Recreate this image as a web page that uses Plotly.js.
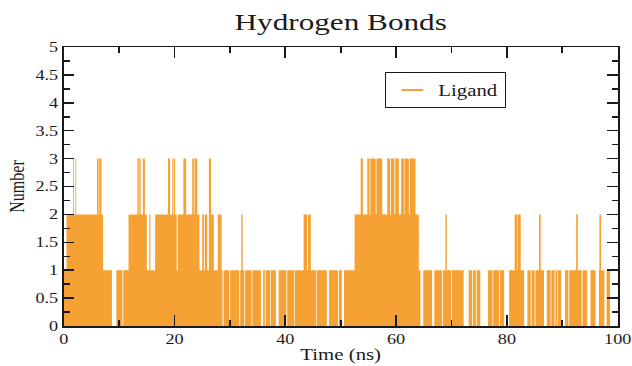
<!DOCTYPE html>
<html><head><meta charset="utf-8">
<script src="https://cdn.plot.ly/plotly-3.0.1.min.js"></script>
<style>
html,body{margin:0;padding:0;background:#fff;overflow:hidden;}
#wrap{width:632px;height:366px;overflow:hidden;}
#chart{width:486px;height:366px;transform:scaleX(1.3004);transform-origin:0 0;}
</style></head><body><div id="wrap"><div id="chart"></div></div>
<script>
// Step breakpoints: number of H-bonds holds from timeNs[i] until timeNs[i+1]
const timeNs = [0,0.5,1.7,1.85,2.1,2.25,6.0,6.3,6.4,6.8,7.1,8.7,9.5,10.6,10.75,11.7,13.3,13.55,13.65,13.9,14.3,14.65,15.0,15.45,15.65,16.5,18.8,19.2,19.6,19.8,19.9,20.1,20.4,20.6,21.6,22.1,23.2,23.5,23.6,24.1,24.5,25.0,25.35,25.5,25.9,26.2,26.6,27.1,27.8,28.5,28.65,28.85,29.9,30.05,31.7,31.85,32.05,32.3,32.6,32.75,33.9,34.05,35.6,36.0,36.3,36.45,37.3,37.42,38.3,38.8,40.2,40.35,41.6,41.72,43.3,43.95,44.1,44.6,45.6,45.72,47.5,47.9,49.5,49.65,50.2,50.6,52.5,53.6,54.0,54.8,55.2,55.35,56.3,56.45,57.5,58.4,58.9,59.05,59.7,59.85,60.5,60.9,61.4,61.5,62.3,62.45,63.5,64.1,64.4,64.9,66.5,66.9,68.3,68.45,68.9,69.15,69.9,70.05,72.2,73.1,73.7,73.85,74.4,74.55,75.2,76.6,77.4,77.52,78.6,78.75,79.5,80.4,81.4,81.9,82.0,82.5,83.1,83.7,84.3,84.45,85.0,85.15,85.8,86.1,86.7,87.2,87.9,88.02,88.6,88.75,89.1,89.22,89.8,90.5,91.1,91.25,92.5,92.8,93.5,93.65,94.5,95.1,96.0,96.6,96.7,97.0,97.6,98.0,98.6,100];
const hbonds = [1,2,3,2,3,2,3,2,3,2,1,0,1,0,1,2,3,2,3,2,3,2,1,2,1,2,3,2,3,2,3,2,1,2,3,2,3,2,3,2,1,2,1,2,1,3,2,1,2,1,0,1,0,1,0,1,2,1,0,1,0,1,0,1,0,1,0,1,0,1,0,1,0,1,2,1,2,1,0,1,0,1,0,1,0,1,2,3,2,3,2,3,2,3,2,3,2,3,2,3,2,3,2,3,2,3,2,1,0,1,0,1,0,1,2,1,0,1,0,1,0,1,0,1,0,1,0,1,0,1,0,1,2,1,2,1,0,1,0,1,0,1,2,1,0,1,0,1,0,1,0,1,0,1,0,1,2,1,0,1,0,1,0,1,2,1,0,1,0,0];
const seriesName = 'Ligand';
const xTickVals = [0,20,40,60,80,100];
const xTickText = ['0','20','40','60','80','100'];
const xMinorVals = [10,30,50,70,90];
const yTickVals = [0,0.5,1,1.5,2,2.5,3,3.5,4,4.5,5];
const yTickText = ['0','0.5','1','1.5','2','2.5','3','3.5','4','4.5','5'];
const yMinorVals = [0.25,0.75,1.25,1.75,2.25,2.75,3.25,3.75,4.25,4.75];

const orange = '#F5A133';
const ink = '#1a1a1a';
const serif = 'Liberation Serif, Times New Roman, serif';

const traces = [
  {x: timeNs, y: hbonds, type: 'scatter', mode: 'lines', line: {shape: 'hv', width: 0, color: orange},
   fill: 'tozeroy', fillcolor: orange, showlegend: false, hoverinfo: 'skip'},
  {x: [null], y: [null], type: 'scatter', mode: 'markers', name: seriesName,
   marker: {symbol: 'line-ew', size: 12, color: orange, line: {color: orange, width: 2}}}
];

const axisCommon = {
  showline: true, linecolor: ink, linewidth: 1.5, mirror: 'ticks',
  ticks: 'inside', tickcolor: ink, tickwidth: 1.5,
  showgrid: false, zeroline: false, tickmode: 'array',
  tickfont: {family: serif, size: 14, color: ink}
};

const layout = {
  width: 486, height: 366,
  margin: {l: 49, r: 11, t: 47, b: 40},
  paper_bgcolor: '#fff', plot_bgcolor: '#fff',
  title: {text: 'Hydrogen Bonds', font: {family: serif, size: 24, color: ink},
          x: 0.5, xref: 'paper', xanchor: 'center', y: 0.94, yref: 'container', yanchor: 'middle'},
  xaxis: Object.assign({}, axisCommon, {
    range: [0, 100], tickvals: xTickVals, ticktext: xTickText, ticklen: 11,
    minor: {tickmode: 'array', tickvals: xMinorVals, ticks: 'inside', ticklen: 6, tickwidth: 1.5, tickcolor: ink},
    title: {text: 'Time (ns)', font: {family: serif, size: 16, color: ink}, standoff: 2}
  }),
  yaxis: Object.assign({}, axisCommon, {
    range: [0, 5], tickvals: yTickVals, ticktext: yTickText, ticklen: 8,
    minor: {tickmode: 'array', tickvals: yMinorVals, ticks: 'inside', ticklen: 4.5, tickwidth: 1.5, tickcolor: ink},
    title: {text: 'Number', font: {family: serif, size: 16, color: ink}, standoff: 4}
  }),
  legend: {x: 0.58, y: 0.91, xanchor: 'left', yanchor: 'top', bordercolor: ink, borderwidth: 1,
           bgcolor: '#fff', font: {family: serif, size: 16, color: ink}, itemwidth: 30},
  showlegend: true
};

Plotly.newPlot('chart', traces, layout, {staticPlot: true, displayModeBar: false});
</script></body></html>
